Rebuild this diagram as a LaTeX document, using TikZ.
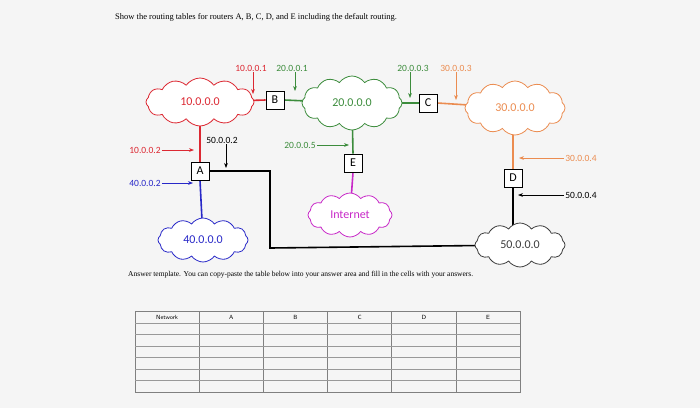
\documentclass[tikz,border=0pt]{standalone}
\usepackage{fontspec}
\setmainfont{Liberation Serif}
\newfontfamily\dfont{Carlito}
\usetikzlibrary{shapes.symbols,arrows.meta}
\definecolor{cred}{RGB}{220,40,50}
\definecolor{cgreen}{RGB}{60,140,60}
\definecolor{corange}{RGB}{235,140,80}
\definecolor{cblue}{RGB}{40,40,200}
\definecolor{cmag}{RGB}{200,40,200}
\definecolor{cgray}{RGB}{60,60,60}
\tikzset{
 cloudn/.style={cloud, cloud puffs=12, cloud puff arc=110, aspect=2.2, draw=#1, text=#1, fill=white, line width=0.8pt, font=\dfont\fontsize{12}{13}\selectfont, inner sep=0pt},
 router/.style={draw=black, fill=white, line width=0.8pt, minimum width=18pt, minimum height=18pt, inner sep=0pt, font=\dfont\fontsize{12}{13}\selectfont},
 lab/.style={text=#1, font=\dfont\fontsize{9.5}{10}\selectfont, inner sep=1pt},
 ar/.style={draw=#1, -{Stealth[length=5pt]}, line width=0.7pt},
 ln/.style={draw=#1, line width=1.6pt},
}
\begin{document}
\begin{tikzpicture}[x=1pt,y=-1pt]
\fill[gray!8] (0,0) rectangle (700,408);
\useasboundingbox (0,0) rectangle (700,408);
\node[anchor=west, font=\fontsize{8.5}{9}\selectfont, inner sep=0pt] (title) at (115,17) {Show the routing tables for routers A, B, C, D, and E including the default routing.};
\coordinate (c10) at (200,102);
\coordinate (c20) at (352,103);
\coordinate (c30) at (515,108);
\node[router] (B) at (275,100) {B};
\node[router] (C) at (428,103) {C};
\node[router] (A) at (200,171) {A};
\node[router] (E) at (353,163) {E};
\node[router] (D) at (513,178) {D};
\draw[ln=cred] (c10) -- (B.west);
\draw[ln=cgreen] (B.east) -- (c20);
\draw[ln=cgreen] (c20) -- (C.west);
\draw[ln=corange] (C.east) -- (c30);
\draw[ln=cred] (c10) -- (A.north);
\draw[ln=cgreen] (c20) -- (E.north);
\draw[ln=corange] (D.north) -- ++(0,-60);
\coordinate (i) at (350,215);
\coordinate (c40) at (203,240);
\coordinate (c50) at (520,245);
\draw[ln=cmag] (E.south) -- (i);
\draw[ln=cblue] (A.south) -- (c40);
\draw[ln=black] (D.south) -- ++(0,50);
\coordinate (k1) at (270,171);
\coordinate (k2) at (270,248);
\draw[line width=1.6pt] (A.east) -- (k1) -- (k2) -- (c50);
\node[cloudn=cred, minimum width=108pt, minimum height=48pt] (n10) at (c10) {10.0.0.0};
\node[cloudn=cgreen, minimum width=100pt, minimum height=54pt] (n20) at (c20) {20.0.0.0};
\node[cloudn=corange, minimum width=100pt, minimum height=54pt] (n30) at (c30) {30.0.0.0};
\node[cloudn=cblue, minimum width=90pt, minimum height=44pt] (n40) at (c40) {40.0.0.0};
\node[cloudn=cmag, minimum width=84pt, minimum height=44pt] (nI) at (i) {Internet};
\node[cloudn=cgray, minimum width=90pt, minimum height=44pt] (n50) at (c50) {50.0.0.0};
\node[router] at (B) {B};
\node[router] at (C) {C};
\node[router] at (A) {A};
\node[router] at (E) {E};
\node[router] at (D) {D};
\node[lab=cred] (l1) at (251,68) {10.0.0.1};
\coordinate (t1) at (253,94); \draw[ar=cred] (l1.south) ++(2,0) -- (t1);
\node[lab=cgreen] (l2) at (292,68) {20.0.0.1};
\coordinate (t2) at (295,91); \draw[ar=cgreen] (l2.south) ++(3,0) -- (t2);
\node[lab=cgreen] (l3) at (413,68) {20.0.0.3};
\coordinate (t3) at (410,98); \draw[ar=cgreen] (l3.south) ++(-3,0) -- (t3);
\node[lab=corange] (l4) at (456,68) {30.0.0.3};
\coordinate (t4) at (456,100); \draw[ar=corange] (l4.south) -- (t4);
\node[lab=black] (l5) at (222,140) {50.0.0.2};
\coordinate (t5) at (226,168); \draw[ar=black] (l5.south) ++(4,0) -- (t5);
\node[lab=cred] (l6) at (145,150) {10.0.0.2};
\coordinate (t6) at (194,150); \draw[ar=cred] (l6.east) -- (t6);
\node[lab=cblue] (l7) at (145,183) {40.0.0.2};
\coordinate (t7) at (193,183); \draw[ar=cblue] (l7.east) -- (t7);
\node[lab=cgreen] (l8) at (300,145) {20.0.0.5};
\coordinate (t8) at (349,145); \draw[ar=cgreen] (l8.east) -- (t8);
\node[lab=corange] (l9) at (581,158) {30.0.0.4};
\coordinate (t9) at (519,158); \draw[ar=corange] (l9.west) -- (t9);
\node[lab=black] (l10) at (581,195) {50.0.0.4};
\coordinate (t10) at (518,195); \draw[ar=black] (l10.west) -- (t10);
\node[anchor=west, font=\fontsize{7.5}{8}\selectfont, inner sep=0pt] (ans) at (128,275) {Answer template. You can copy-paste the table below into your answer area and fill in the cells with your answers.};
\draw[gray, line width=0.6pt] (135,311) rectangle (520,392);
\foreach \i in {1,...,5} \draw[gray, line width=0.8pt] (135+64.2*\i,311) -- (135+64.2*\i,392);
\foreach \y in {323,334.5,346,357.5,369,380.5} \draw[gray!80, line width=0.5pt] (135,\y) -- (520,\y);
\foreach \t [count=\i from 0] in {Network,A,B,C,D,E}
  \node[font=\sffamily\fontsize{6}{6}\selectfont, inner sep=0pt] (h\i) at (135+32.1+64.2*\i,317) {\t};
\end{tikzpicture}
\end{document}
